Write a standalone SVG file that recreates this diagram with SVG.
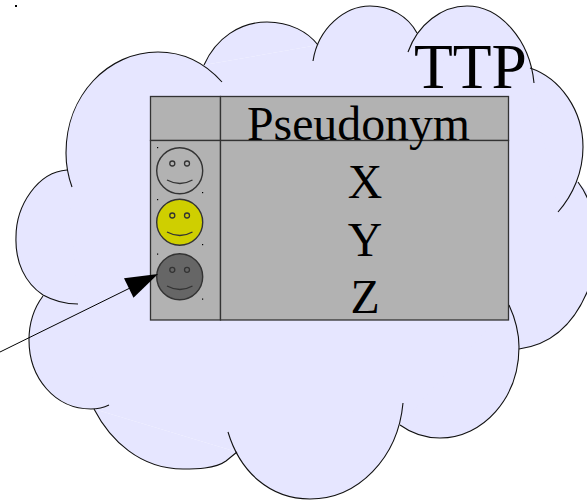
<svg xmlns="http://www.w3.org/2000/svg" xmlns:xlink="http://www.w3.org/1999/xlink" width="587" height="500" viewBox="0 0 587 500">
<style>
.lobe{stroke:#111;stroke-width:1.100;fill:none}
.cloudfill{fill:#e6e6ff;stroke:none}
.cell{fill:#b2b2b2;stroke:#333;stroke-width:1.300}
.face{stroke:#333;stroke-width:1.400}
.eye{fill:none;stroke:#333;stroke-width:1.300}
.smile{fill:none;stroke:#333;stroke-width:1.300}
.dot{fill:#000}
text{font-family:"Liberation Serif","Times New Roman",serif;fill:#000;text-anchor:middle}
.big{font-size:47.8px}
</style>
<defs>
<path id="k" d="M78,304C62,304 52,300 43,295C25,283 15,262 16,237C16,205 38,172 67,170"/>
<path id="a" d="M72,187C68,176 66,165 66,153C66,95 108,52 158,52C183,52 205,63 222,82"/>
<path id="b" d="M204,65C216,38 240,22 267,22C290,22 308,32 318,45"/>
<path id="c" d="M313,61C318,28 345,6 370,6C390,6 408,16 417,33"/>
<path id="d" d="M408,52C418,24 442,6 467,6C500,6 530,40 534,83"/>
<path id="e" d="M530,68C560,78 583,110 583,147C583,172 573,195 558,212"/>
<path id="f1" d="M578,182C584,190 587,195 590,205"/>
<path id="f2" d="M590,285C575,325 550,345 519,349"/>
<path id="g" d="M509,305C515,318 519,332 519,347C519,398 483,438 440,438C425,438 411,433 400,425"/>
<path id="h" d="M403,403C398,458 358,499 310,499C270,499 240,472 228,432"/>
<path id="i" d="M237,452L226,461C215,469 195,469 183,469C140,469 110,440 94,409"/>
<path id="j" d="M109,405C103,408 97,409 91,409C55,409 29,378 29,340C29,322 34,308 43,296"/>
</defs>
<rect x="15" y="5" width="2" height="2" class="dot"/>
<g id="cloud">
<g class="cloudfill">
<polygon points="43,295 67,170 204,65 318,45 417,33 530,68 578,182 600,205 600,285 519,349 400,425 237,452 94,409"/>
<use xlink:href="#k"/><use xlink:href="#a"/><use xlink:href="#b"/><use xlink:href="#c"/><use xlink:href="#d"/><use xlink:href="#e"/><use xlink:href="#f2"/><use xlink:href="#g"/><use xlink:href="#h"/><use xlink:href="#i"/><use xlink:href="#j"/>
</g>
<g class="lobe">
<use xlink:href="#k"/><use xlink:href="#a"/><use xlink:href="#b"/><use xlink:href="#c"/><use xlink:href="#d"/><use xlink:href="#e"/><use xlink:href="#f1"/><use xlink:href="#f2"/><use xlink:href="#g"/><use xlink:href="#h"/><use xlink:href="#i"/><use xlink:href="#j"/>
</g>
<text x="470.500" y="87.500" font-size="63.500">TTP</text>
</g>
<g id="table">
<rect class="cell" x="150.500" y="96.500" width="70" height="44"/>
<rect class="cell" x="220.500" y="96.500" width="288" height="44"/>
<rect class="cell" x="150.500" y="140.500" width="70" height="179.500"/>
<rect class="cell" x="220.500" y="140.500" width="288" height="179.500"/>
<text class="big" x="358.500" y="140">Pseudonym</text>
<text class="big" x="365" y="198">X</text>
<text class="big" x="365" y="256">Y</text>
<text class="big" x="365" y="312.500">Z</text>
</g>
<g id="face-x">
<circle class="face" cx="179.700" cy="170.700" r="23" fill="#b2b2b2"/>
<circle class="eye" cx="172.300" cy="163.500" r="2.500"/><circle class="eye" cx="187" cy="163.500" r="2.500"/>
<path class="smile" d="M167,180Q180,187 192.500,180"/>
<rect class="dot" x="157" y="147" width="1.200" height="1.200"/><rect class="dot" x="202" y="192" width="1.200" height="1.200"/>
</g>
<g id="face-y">
<circle class="face" cx="179.700" cy="222.300" r="23" fill="#cfcf00"/>
<circle class="eye" cx="172.300" cy="215.500" r="2.500"/><circle class="eye" cx="187" cy="215.500" r="2.500"/>
<path class="smile" d="M167,232Q180,239 192.500,232"/>
<rect class="dot" x="157" y="199" width="1.200" height="1.200"/><rect class="dot" x="202" y="244" width="1.200" height="1.200"/>
</g>
<g id="face-z">
<circle class="face" cx="179.700" cy="276.700" r="23" fill="#666"/>
<circle class="eye" cx="172.300" cy="269.800" r="2.500"/><circle class="eye" cx="187" cy="269.800" r="2.500"/>
<path class="smile" d="M167,286Q180,293 192.500,286"/>
<rect class="dot" x="157" y="253.500" width="1.200" height="1.200"/><rect class="dot" x="202" y="298.500" width="1.200" height="1.200"/>
</g>
<g id="connectors">
<line x1="0" y1="352" x2="130" y2="288" stroke="#000" stroke-width="1"/>
<polygon points="158,274 124,278.300 133.500,297.700" fill="#000"/>
</g>
</svg>
